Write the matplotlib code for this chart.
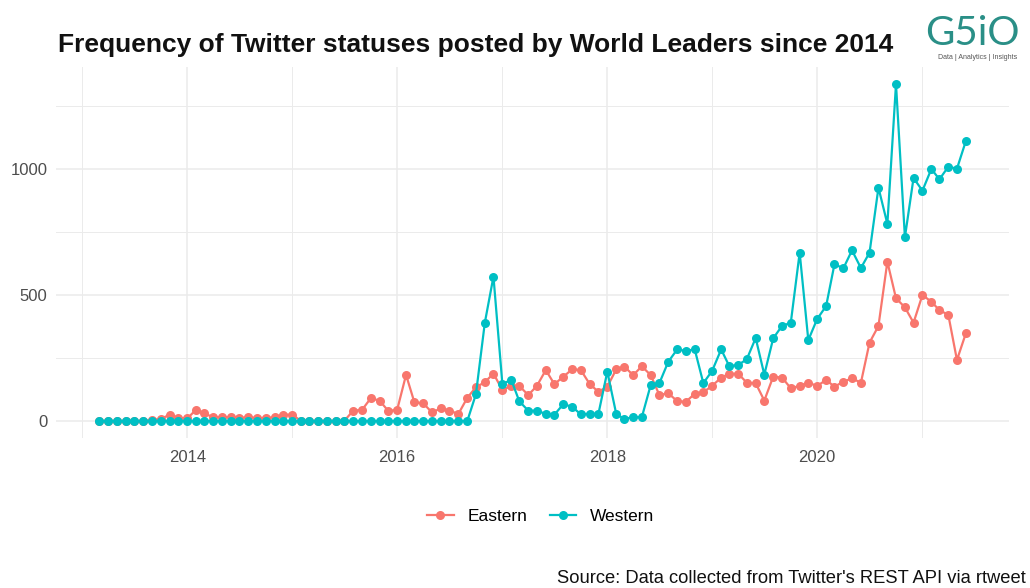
import matplotlib
matplotlib.use("Agg")
import matplotlib.pyplot as plt
import matplotlib.dates as mdates
import pandas as pd
from matplotlib.ticker import MultipleLocator

# monthly counts, 2013-03 .. 2021-06
months = pd.date_range("2013-03-01", periods=100, freq="MS")

eastern = [
    0, 0, 0, 0, 0, 0, 5, 8, 25, 12,                                  # 2013
    10, 45, 30, 15, 15, 15, 12, 15, 12, 12, 15, 25,                  # 2014
    25, 0, 0, 0, 0, 0, 0, 41, 44, 90, 81, 40,                        # 2015
    44, 183, 74, 70, 34, 50, 41, 28, 92, 134, 154, 188,              # 2016
    123, 139, 139, 103, 139, 202, 146, 176, 205, 202, 146, 116,      # 2017
    136, 205, 216, 182, 217, 182, 103, 110, 79, 76, 108, 114,        # 2018
    140, 172, 187, 188, 152, 150, 81, 176, 172, 130, 139, 152,       # 2019
    139, 163, 136, 156, 169, 152, 311, 377, 632, 487, 451, 390,      # 2020
    500, 473, 440, 421, 242, 348,                                    # 2021
]

western = [
    0, 0, 0, 0, 0, 0, 0, 0, 0, 0,                                    # 2013
    0, 0, 0, 0, 0, 0, 0, 0, 0, 0, 0, 0,                              # 2014
    0, 0, 0, 0, 0, 0, 0, 0, 0, 0, 0, 0,                              # 2015
    0, 0, 0, 0, 0, 0, 0, 0, 0, 106, 390, 573,                        # 2016
    147, 163, 78, 41, 41, 28, 25, 67, 56, 26, 29, 28,                # 2017
    196, 28, 8, 15, 15, 143, 150, 235, 284, 278, 284, 150,           # 2018
    200, 284, 218, 222, 245, 329, 184, 328, 378, 389, 668, 321,      # 2019
    405, 456, 622, 606, 677, 607, 668, 926, 782, 1337, 729, 964,     # 2020
    914, 1000, 959, 1009, 1001, 1111,                                # 2021
]

series_names = ["Eastern", "Western"]
colors = ["#F8766D", "#00BFC4"]

plt.rcParams["font.family"] = ["Liberation Sans", "DejaVu Sans"]

fig = plt.figure(figsize=(10.3, 5.88), dpi=100)
ax = fig.add_axes([0.0543, 0.2554, 0.9255, 0.6303])

for name, vals, col in zip(series_names, [eastern, western], colors):
    ax.plot(months, vals, color=col, lw=1.6, marker="o", markersize=6.5,
            markeredgewidth=0, label=name)

# ggplot-like 5% expansion
span = months[-1] - months[0]
ax.set_xlim(months[0] - span * 0.05, months[-1] + span * 0.05)
ymax = max(max(eastern), max(western))
ax.set_ylim(-0.05 * ymax, 1.05 * ymax)

ax.xaxis.set_major_locator(mdates.YearLocator(2))
ax.xaxis.set_minor_locator(mdates.YearLocator(1))
ax.xaxis.set_major_formatter(mdates.DateFormatter("%Y"))
ax.yaxis.set_major_locator(MultipleLocator(500))
ax.yaxis.set_minor_locator(MultipleLocator(250))

ax.grid(which="major", color="#EBEBEB", lw=1.1)
ax.grid(which="minor", color="#EBEBEB", lw=0.7)
ax.set_axisbelow(True)
for s in ax.spines.values():
    s.set_visible(False)
ax.tick_params(which="both", length=0)
ax.tick_params(axis="x", labelsize=12, labelcolor="#4D4D4D", pad=9)
ax.tick_params(axis="y", labelsize=12, labelcolor="#4D4D4D", pad=6)

fig.text(0.0563, 0.9116, "Frequency of Twitter statuses posted by World Leaders since 2014",
         fontsize=19, fontweight="bold", ha="left", va="baseline", color="#111111")

fig.legend(loc="center", bbox_to_anchor=(0.525, 0.122), ncol=2, frameon=False,
           fontsize=12.5, handlelength=1.5, handletextpad=0.8, columnspacing=1.3)

fig.text(0.996, 0.008, "Source: Data collected from Twitter's REST API via rtweet",
         fontsize=13.2, ha="right", va="baseline", color="#111111")

# logo
fig.text(0.898, 0.924, "G5iO", fontsize=29, family=["Lato", "DejaVu Sans"],
         color="#2A8F87", ha="left", va="baseline")
fig.text(0.949, 0.902, "Data | Analytics | Insights", fontsize=5,
         color="#555555", ha="center", va="center")

fig.savefig("out.png", dpi=100)
